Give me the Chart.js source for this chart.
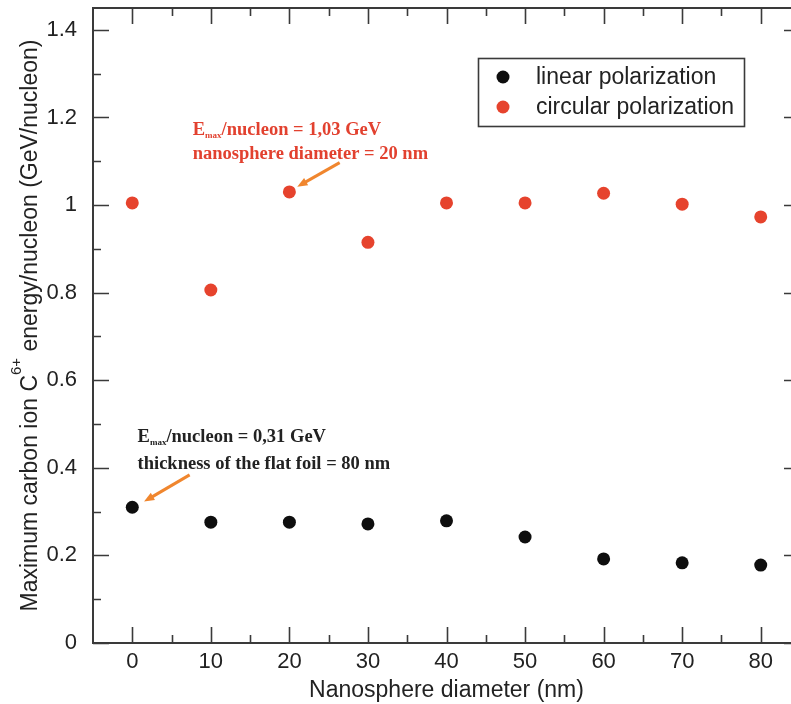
<!DOCTYPE html>
<html>
<head>
<meta charset="utf-8">
<script src="https://cdn.jsdelivr.net/npm/chart.js@4.4.1/dist/chart.umd.min.js"></script>
<style>
  html, body { margin: 0; padding: 0; background: #fff; overflow: hidden; }
  #wrap { width: 810px; height: 704px; }
</style>
</head>
<body>
<div id="wrap"><canvas id="chart" width="810" height="704"></canvas></div>
<script>
// Max C6+ energy per nucleon vs nanosphere diameter
const diameters = [0, 10, 20, 30, 40, 50, 60, 70, 80];
const linearEnergy = [0.31, 0.276, 0.276, 0.272, 0.279, 0.242, 0.192, 0.183, 0.178];
const circularEnergy = [1.005, 0.806, 1.03, 0.915, 1.005, 1.005, 1.027, 1.002, 0.973];
const seriesLabels = ['linear polarization', 'circular polarization'];

const xTickLabels = [0, 10, 20, 30, 40, 50, 60, 70, 80];
const xMinorTicks = [5, 15, 25, 35, 45, 55, 65, 75];
const yTickLabels = [0, 0.2, 0.4, 0.6, 0.8, 1, 1.2, 1.4];
const yMinorTicks = [0.1, 0.3, 0.5, 0.7, 0.9, 1.1, 1.3];

const colors = {
    linear: '#0e0e0e',
    circular: '#e6432d',
    arrow: '#f0862e',
    redText: '#e2412f',
    text: '#222',
    frame: '#3a3a3a'
};

const sans = '"Liberation Sans", Arial, sans-serif';
const serif = '"Liberation Serif", "Times New Roman", serif';

function toPoints(values) {
    return diameters.map((d, i) => ({ x: d, y: values[i] }));
}

// annotation blocks: text anchor + arrow, all in data units
const notes = [
    {
        color: colors.redText,
        at: [7.7, 1.16], lineGap: 0.054,
        value: '1,03 GeV', second: 'nanosphere diameter = 20 nm',
        arrow: [[26.4, 1.097], [21.0, 1.042]]
    },
    {
        color: colors.text,
        at: [0.67, 0.459], lineGap: 0.062,
        value: '0,31 GeV', second: 'thickness of the flat foil = 80 nm',
        arrow: [[7.3, 0.384], [1.5, 0.323]]
    }
];

function drawArrow(ctx, x0, y0, x1, y1) {
    const ang = Math.atan2(y1 - y0, x1 - x0);
    const head = 11;
    ctx.strokeStyle = colors.arrow;
    ctx.fillStyle = colors.arrow;
    ctx.lineWidth = 3;
    ctx.beginPath();
    ctx.moveTo(x0, y0);
    ctx.lineTo(x1 - Math.cos(ang) * head * 0.8, y1 - Math.sin(ang) * head * 0.8);
    ctx.stroke();
    ctx.beginPath();
    ctx.moveTo(x1, y1);
    ctx.lineTo(x1 - head * Math.cos(ang - 0.38), y1 - head * Math.sin(ang - 0.38));
    ctx.lineTo(x1 - head * Math.cos(ang + 0.38), y1 - head * Math.sin(ang + 0.38));
    ctx.closePath();
    ctx.fill();
}

const framePlugin = {
    id: 'frame',
    afterDatasetsDraw(chart) {
        const { ctx, chartArea: a, scales: { x, y } } = chart;
        ctx.save();

        // box and inward ticks on all four sides
        ctx.strokeStyle = colors.frame;
        ctx.lineWidth = 2;
        ctx.strokeRect(a.left, a.top, a.right - a.left, a.bottom - a.top);
        ctx.lineWidth = 1.6;
        ctx.beginPath();
        const xMarks = (vals, len) => vals.forEach(v => {
            const px = Math.round(x.getPixelForValue(v)) + 0.5;
            ctx.moveTo(px, a.bottom); ctx.lineTo(px, a.bottom - len);
            ctx.moveTo(px, a.top); ctx.lineTo(px, a.top + len);
        });
        const yMarks = (vals, len) => vals.forEach(v => {
            const py = Math.round(y.getPixelForValue(v)) + 0.5;
            ctx.moveTo(a.left, py); ctx.lineTo(a.left + len, py);
            ctx.moveTo(a.right, py); ctx.lineTo(a.right - len, py);
        });
        xMarks(xTickLabels, 16); xMarks(xMinorTicks, 8);
        yMarks(yTickLabels, 16); yMarks(yMinorTicks, 8);
        ctx.stroke();

        // axis titles
        ctx.fillStyle = colors.text;
        ctx.textBaseline = 'alphabetic';
        ctx.font = '23px ' + sans;
        ctx.textAlign = 'center';
        ctx.fillText('Nanosphere diameter (nm)', (a.left + a.right) / 2, 697);

        ctx.save();
        ctx.translate(37, (a.top + a.bottom) / 2);
        ctx.rotate(-Math.PI / 2);
        ctx.textAlign = 'left';
        const p1 = 'Maximum carbon ion C', p2 = '6+', p3 = ' energy/nucleon (GeV/nucleon)';
        ctx.font = '23px ' + sans;
        const w1 = ctx.measureText(p1).width, w3 = ctx.measureText(p3).width;
        ctx.font = '15px ' + sans;
        const w2 = ctx.measureText(p2).width;
        let cx = -(w1 + w2 + w3) / 2;
        ctx.font = '23px ' + sans;
        ctx.fillText(p1, cx, 0); cx += w1;
        ctx.font = '15px ' + sans;
        ctx.fillText(p2, cx, -16); cx += w2;
        ctx.font = '23px ' + sans;
        ctx.fillText(p3, cx, 0);
        ctx.restore();

        // legend box
        ctx.lineWidth = 1.6;
        ctx.strokeStyle = colors.frame;
        ctx.strokeRect(478.5, 58.5, 266, 68);
        ctx.font = '23px ' + sans;
        ctx.textAlign = 'left';
        ctx.textBaseline = 'middle';
        chart.data.datasets.forEach((ds, i) => {
            const ry = 77 + i * 30;
            ctx.fillStyle = ds.backgroundColor;
            ctx.beginPath();
            ctx.arc(503, ry, 6.5, 0, Math.PI * 2);
            ctx.fill();
            ctx.fillStyle = colors.text;
            ctx.fillText(ds.label, 536, ry + 1);
        });

        // value notes with arrows
        ctx.textBaseline = 'alphabetic';
        notes.forEach(n => {
            const tx = x.getPixelForValue(n.at[0]);
            const ty = y.getPixelForValue(n.at[1]);
            const ty2 = y.getPixelForValue(n.at[1] - n.lineGap);
            ctx.fillStyle = n.color;
            ctx.font = 'bold 18.5px ' + serif;
            ctx.fillText('E', tx, ty);
            let off = ctx.measureText('E').width;
            ctx.font = 'bold 9px ' + serif;
            ctx.fillText('max', tx + off, ty + 3);
            off += ctx.measureText('max').width;
            ctx.font = 'bold 18.5px ' + serif;
            ctx.fillText('/nucleon = ' + n.value, tx + off, ty);
            ctx.fillText(n.second, tx, ty2);
            drawArrow(ctx,
                x.getPixelForValue(n.arrow[0][0]), y.getPixelForValue(n.arrow[0][1]),
                x.getPixelForValue(n.arrow[1][0]), y.getPixelForValue(n.arrow[1][1]));
        });

        ctx.restore();
    }
};

new Chart(document.getElementById('chart'), {
    type: 'scatter',
    data: {
        datasets: [
            {
                label: seriesLabels[0],
                data: toPoints(linearEnergy),
                backgroundColor: colors.linear,
                borderWidth: 0,
                pointRadius: 6.5
            },
            {
                label: seriesLabels[1],
                data: toPoints(circularEnergy),
                backgroundColor: colors.circular,
                borderWidth: 0,
                pointRadius: 6.5
            }
        ]
    },
    options: {
        responsive: false,
        animation: false,
        devicePixelRatio: 1,
        layout: { padding: { left: 0, top: 8, right: 10, bottom: 0 } },
        plugins: {
            legend: { display: false },
            tooltip: { enabled: false }
        },
        scales: {
            x: {
                type: 'linear',
                min: -5,
                max: 85,
                afterBuildTicks: s => { s.ticks = xTickLabels.map(v => ({ value: v })); },
                afterFit: s => { s.height = 61; s.paddingLeft = 0; s.paddingRight = 0; },
                grid: { display: false },
                border: { display: false },
                ticks: {
                    color: colors.text,
                    font: { family: sans, size: 22 },
                    padding: -2,
                    maxRotation: 0,
                    callback: v => String(v)
                }
            },
            y: {
                type: 'linear',
                min: 0,
                max: 1.45,
                afterBuildTicks: s => { s.ticks = yTickLabels.map(v => ({ value: v })); },
                afterFit: s => { s.width = 93; s.paddingTop = 0; s.paddingBottom = 0; },
                grid: { display: false },
                border: { display: false },
                ticks: {
                    color: colors.text,
                    font: { family: sans, size: 22 },
                    padding: 8,
                    callback: v => String(v)
                }
            }
        }
    },
    plugins: [framePlugin]
});
</script>
</body>
</html>
